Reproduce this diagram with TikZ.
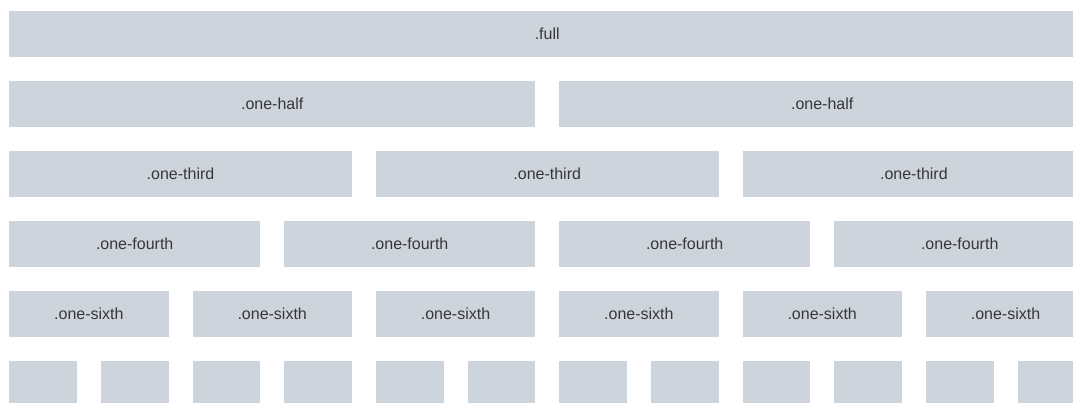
\documentclass[tikz,border=0pt]{standalone}
\usepackage{fontspec}
\setmainfont{Liberation Sans}
\definecolor{boxfill}{RGB}{206,212,220}
\definecolor{boxtext}{RGB}{55,55,55}
\begin{document}
\begin{tikzpicture}[x=1pt,y=-1pt,
  cell/.style={fill=boxfill, draw=none, inner sep=0pt, anchor=north west,
    minimum height=46.5pt, text=boxtext, font=\fontsize{16}{19}\selectfont}]
\useasboundingbox (0,0) rectangle (1073,403);
\clip (0,0) rectangle (1073,403);
\fill[white] (0,0) rectangle (1073,403);
% full
\node[cell, minimum width=1076pt] (full) at (9,10.5) {.full};
% halves
\foreach \i in {0,1} {
  \node[cell, minimum width=526pt] (half\i) at ({9+\i*550},80.5) {.one-half};
}
% thirds
\foreach \i in {0,1,2} {
  \node[cell, minimum width=342.67pt] (third\i) at ({9+\i*366.67},150.5) {.one-third};
}
% fourths
\foreach \i in {0,1,2,3} {
  \node[cell, minimum width=251pt] (fourth\i) at ({9+\i*275},220.5) {.one-fourth};
}
% sixths
\foreach \i in {0,...,5} {
  \node[cell, minimum width=159.33pt] (sixth\i) at ({9+\i*183.33},290.5) {.one-sixth};
}
% twelfths
\foreach \i in {0,...,11} {
  \node[cell, minimum width=67.67pt] (twelfth\i) at ({9+\i*91.67},360.5) {};
}
\end{tikzpicture}
\end{document}
